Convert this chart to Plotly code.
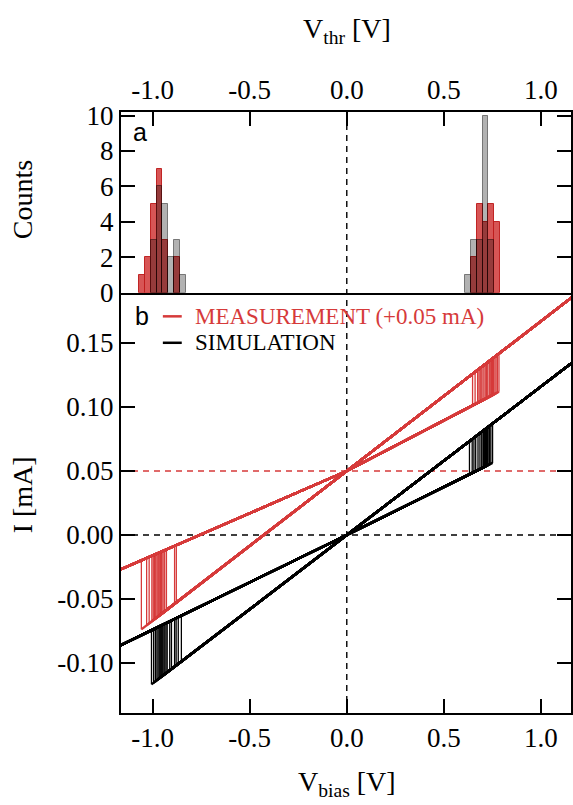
import plotly.graph_objects as go

# ---- switching thresholds per cycle [V] (20 cycles each) ----
meas_set_v = [0.648, 0.661, 0.674, 0.681, 0.687, 0.692, 0.697, 0.706, 0.713, 0.719,
              0.726, 0.734, 0.739, 0.745, 0.750, 0.756, 0.763, 0.769, 0.776, 0.784]
meas_reset_v = [-1.058, -1.031, -1.018, -1.004, -0.997, -0.991, -0.987, -0.983, -0.977, -0.972,
                -0.968, -0.963, -0.959, -0.955, -0.952, -0.946, -0.938, -0.929, -0.887, -0.878]
sim_set_v = [0.632, 0.646, 0.655, 0.664, 0.676, 0.686, 0.695, 0.702, 0.705, 0.708,
             0.711, 0.714, 0.717, 0.720, 0.722, 0.725, 0.728, 0.735, 0.742, 0.751]
sim_reset_v = [-1.006, -0.995, -0.986, -0.978, -0.972, -0.966, -0.961, -0.957, -0.953, -0.948,
               -0.942, -0.937, -0.931, -0.925, -0.912, -0.903, -0.887, -0.879, -0.868, -0.852]

# ---- branch conductances [mA/V] and offsets [mA] ----
meas_g_hrs_pos = 0.079
meas_g_hrs_neg = 0.066
meas_g_lrs = 0.117
meas_offset = 0.05
sim_g_hrs_pos = 0.075
sim_g_hrs_neg = 0.074
sim_g_lrs = 0.116
sim_offset = 0.0

# sweep limits [V]
v_min, v_max = -1.2, 1.2

# axis ticks
v_ticks = [-1.0, -0.5, 0.0, 0.5, 1.0]
v_ticktext = ["-1.0", "-0.5", "0.0", "0.5", "1.0"]
i_ticks = [-0.10, -0.05, 0.00, 0.05, 0.10, 0.15]
i_ticktext = ["-0.10", "-0.05", "0.00", "0.05", "0.10", "0.15"]
count_ticks = [0, 2, 4, 6, 8, 10]

RED = "#d63a3a"
SERIF = "Liberation Serif"
SANS = "Liberation Sans"


def loops(set_v, reset_v, g_hp, g_hn, g_l, off):
    """Branch segments and switching jumps of each I-V cycle."""
    bx, by, jx, jy = [], [], [], []
    for vs, vr in zip(set_v, reset_v):
        # HRS from 0 up to set, LRS from set to v_max and back down to reset,
        # HRS from reset to v_min and back to 0
        bx += [0, vs, None, vs, v_max, vr, None, vr, v_min, 0, None]
        by += [off, off + g_hp * vs, None,
               off + g_l * vs, off + g_l * v_max, off + g_l * vr, None,
               off + g_hn * vr, off + g_hn * v_min, off, None]
        jx += [vs, vs, None, vr, vr, None]
        jy += [off + g_hp * vs, off + g_l * vs, None,
               off + g_l * vr, off + g_hn * vr, None]
    return bx, by, jx, jy


fig = go.Figure()

# ---- panel a: threshold histograms ----
bins = dict(start=-1.07, end=0.85, size=0.03)
fig.add_trace(go.Histogram(
    x=meas_set_v + meas_reset_v, xbins=bins, xaxis="x2", yaxis="y2",
    marker=dict(color="rgba(200,20,20,0.72)", line=dict(color="rgba(190,30,30,0.95)", width=1)),
    showlegend=False))
fig.add_trace(go.Histogram(
    x=sim_set_v + sim_reset_v, xbins=bins, xaxis="x2", yaxis="y2",
    marker=dict(color="rgba(0,0,0,0.30)", line=dict(color="rgba(0,0,0,0.45)", width=1)),
    showlegend=False))

# ---- panel b: I-V loops ----
for sv, rv, ghp, ghn, gl, off, col in [
        (sim_set_v, sim_reset_v, sim_g_hrs_pos, sim_g_hrs_neg, sim_g_lrs, sim_offset, "black"),
        (meas_set_v, meas_reset_v, meas_g_hrs_pos, meas_g_hrs_neg, meas_g_lrs, meas_offset, RED)]:
    bx, by, jx, jy = loops(sv, rv, ghp, ghn, gl, off)
    fig.add_trace(go.Scatter(x=jx, y=jy, mode="lines", line=dict(color=col, width=1.3),
                             showlegend=False, hoverinfo="skip"))
    fig.add_trace(go.Scatter(x=bx, y=by, mode="lines", line=dict(color=col, width=2.4),
                             showlegend=False, hoverinfo="skip"))

shapes = [
    dict(type="line", xref="x", yref="paper", x0=0, x1=0, y0=0, y1=1,
         line=dict(color="black", width=1.4, dash="6px,5px"), layer="below"),
    dict(type="line", xref="x domain", yref="y", x0=0, x1=1, y0=0, y1=0,
         line=dict(color="black", width=1.4, dash="6px,5px"), layer="below"),
    dict(type="line", xref="x domain", yref="y", x0=0, x1=1, y0=meas_offset, y1=meas_offset,
         line=dict(color=RED, width=1.4, dash="6px,5px"), layer="below"),
    # legend keys
    dict(type="line", xref="paper", yref="paper", x0=0.093, x1=0.135, y0=0.660, y1=0.660,
         line=dict(color=RED, width=2.5)),
    dict(type="line", xref="paper", yref="paper", x0=0.093, x1=0.135, y0=0.616, y1=0.616,
         line=dict(color="black", width=2.5)),
]

title_font = dict(family=SERIF, size=28, color="black")
annotations = [
    dict(text="MEASUREMENT (+0.05 mA)", xref="paper", yref="paper", x=0.159, y=0.660,
         xanchor="left", yanchor="middle", showarrow=False, font=dict(family=SERIF, size=23, color=RED)),
    dict(text="SIMULATION", xref="paper", yref="paper", x=0.159, y=0.616,
         xanchor="left", yanchor="middle", showarrow=False, font=dict(family=SERIF, size=23, color="black")),
    dict(text="a", xref="paper", yref="paper", x=0.043, y=0.967, xanchor="center", yanchor="middle",
         showarrow=False, font=dict(family=SANS, size=25, color="black")),
    dict(text="b", xref="paper", yref="paper", x=0.046, y=0.661, xanchor="center", yanchor="middle",
         showarrow=False, font=dict(family=SANS, size=25, color="black")),
    dict(text="V<sub>thr</sub> [V]", xref="paper", yref="paper", x=0.502, y=1.136,
         xanchor="center", yanchor="middle", showarrow=False, font=title_font),
    dict(text="V<sub>bias</sub> [V]", xref="paper", yref="paper", x=0.502, y=-0.117,
         xanchor="center", yanchor="middle", showarrow=False, font=title_font),
    dict(text="Counts", xref="paper", yref="paper", x=-0.219, y=0.854, textangle=-90,
         xanchor="center", yanchor="middle", showarrow=False, font=title_font),
    dict(text="I [mA]", xref="paper", yref="paper", x=-0.219, y=0.363, textangle=-90,
         xanchor="center", yanchor="middle", showarrow=False, font=title_font),
]

axis_common = dict(showline=True, linewidth=2, linecolor="black", ticks="inside", ticklen=14,
                   tickwidth=2, tickcolor="black", showgrid=False, zeroline=False,
                   tickfont=dict(family=SERIF, size=27, color="black"))
x_range = [-1.163, 1.155]
split = 0.6993

fig.update_layout(
    width=573, height=805,
    margin=dict(l=121, r=0, t=112, b=92),
    paper_bgcolor="white", plot_bgcolor="white",
    font=dict(family=SERIF, color="black"),
    barmode="overlay", bargap=0,
    showlegend=False,
    xaxis=dict(domain=[0, 1], anchor="y", range=x_range, tickvals=v_ticks, ticktext=v_ticktext,
               **axis_common),
    yaxis=dict(domain=[0, split], anchor="x", range=[-0.1391, 0.1893], tickvals=i_ticks,
               ticktext=i_ticktext, mirror="ticks", **axis_common),
    xaxis2=dict(domain=[0, 1], anchor="y2", side="top", matches="x", range=x_range,
                tickvals=v_ticks, ticktext=v_ticktext, mirror=True, **axis_common),
    yaxis2=dict(domain=[split, 1], anchor="x2", range=[0, 10.2], tickvals=count_ticks,
                mirror="ticks", **axis_common),
    shapes=shapes,
    annotations=annotations,
)

fig.write_html("out.html")
